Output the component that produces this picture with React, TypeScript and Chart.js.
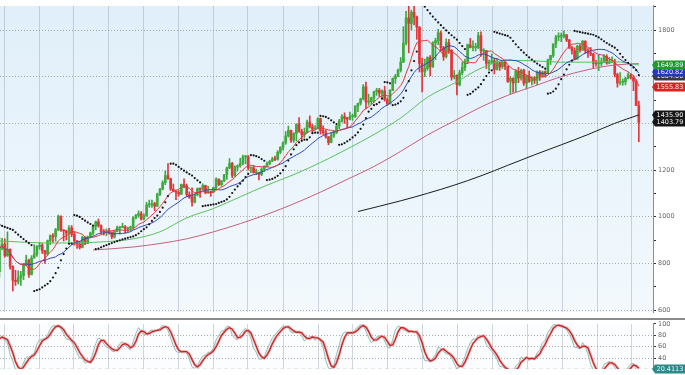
import React, { useEffect, useRef } from 'react';
import { Chart, registerables } from 'chart.js';

Chart.register(...registerables);

// Weekly gold (USD/oz) candles, week ending 19 Sep 2008 ... 19 Apr 2013 (bar index 0..239)
const opens = [
  764, 866, 883, 832, 860, 786, 727, 722, 737, 748,
  795, 814, 752, 823, 839, 872, 878, 853, 840, 897,
  919, 914, 944, 1002, 942, 939, 930, 952, 924, 897,
  883, 868, 912, 885, 913, 930, 958, 978, 962, 936,
  935, 940, 932, 913, 937, 953, 954, 957, 947, 952,
  955, 995, 1006, 1013, 990, 1003, 1050, 1051, 1056, 1045,
  1096, 1118, 1146, 1176, 1163, 1118, 1110, 1104, 1097, 1138,
  1131, 1094, 1083, 1062, 1094, 1121, 1117, 1134, 1102, 1107,
  1105, 1125, 1161, 1137, 1154, 1180, 1209, 1228, 1177, 1213,
  1218, 1229, 1256, 1256, 1209, 1210, 1189, 1189, 1181, 1204,
  1215, 1228, 1237, 1247, 1246, 1276, 1297, 1317, 1346, 1370,
  1327, 1357, 1396, 1366, 1352, 1362, 1405, 1385, 1375, 1380,
  1420, 1369, 1360, 1342, 1318, 1349, 1360, 1388, 1409, 1429,
  1421, 1418, 1429, 1429, 1474, 1486, 1504, 1556, 1491, 1493,
  1510, 1536, 1542, 1529, 1539, 1501, 1483, 1541, 1592, 1601,
  1628, 1663, 1744, 1852, 1828, 1876, 1856, 1812, 1657, 1620,
  1635, 1682, 1642, 1745, 1755, 1788, 1724, 1686, 1746, 1713,
  1598, 1606, 1566, 1617, 1640, 1665, 1737, 1725, 1725, 1725,
  1776, 1710, 1712, 1657, 1662, 1668, 1631, 1660, 1642, 1663,
  1645, 1580, 1593, 1573, 1623, 1594, 1628, 1572, 1604, 1580,
  1590, 1584, 1620, 1604, 1620, 1616, 1672, 1691, 1740, 1770,
  1773, 1773, 1780, 1757, 1724, 1712, 1676, 1731, 1714, 1752,
  1712, 1702, 1697, 1657, 1656, 1656, 1662, 1687, 1658, 1666,
  1667, 1609, 1573, 1576, 1578, 1592, 1607, 1596, 1581, 1476,
];
const highs = [
  910, 907, 905, 935, 862, 790, 770, 768, 766, 800,
  835, 818, 833, 880, 876, 890, 885, 856, 900, 922,
  927, 950, 1007, 1004, 945, 941, 962, 962, 934, 897,
  895, 917, 913, 917, 934, 961, 981, 990, 965, 945,
  948, 950, 935, 940, 960, 957, 972, 962, 955, 960,
  1000, 1010, 1025, 1022, 1012, 1062, 1071, 1071, 1062, 1101,
  1121, 1154, 1196, 1227, 1165, 1140, 1110, 1112, 1140, 1162,
  1140, 1107, 1124, 1097, 1123, 1124, 1141, 1135, 1130, 1110,
  1127, 1166, 1162, 1155, 1180, 1213, 1249, 1233, 1218, 1222,
  1250, 1264, 1263, 1262, 1211, 1218, 1204, 1190, 1210, 1218,
  1235, 1242, 1255, 1260, 1283, 1300, 1321, 1365, 1388, 1371,
  1360, 1398, 1425, 1375, 1380, 1414, 1432, 1395, 1390, 1424,
  1423, 1389, 1372, 1344, 1360, 1370, 1390, 1417, 1437, 1445,
  1426, 1448, 1440, 1476, 1487, 1508, 1566, 1577, 1525, 1512,
  1538, 1550, 1550, 1544, 1559, 1510, 1545, 1595, 1610, 1632,
  1682, 1814, 1880, 1912, 1885, 1921, 1860, 1815, 1680, 1675,
  1685, 1690, 1750, 1765, 1803, 1795, 1730, 1762, 1760, 1716,
  1627, 1608, 1628, 1662, 1675, 1740, 1764, 1754, 1743, 1790,
  1792, 1720, 1712, 1672, 1697, 1680, 1678, 1663, 1668, 1665,
  1645, 1600, 1595, 1630, 1640, 1632, 1632, 1605, 1624, 1600,
  1600, 1625, 1626, 1624, 1625, 1675, 1692, 1741, 1777, 1788,
  1787, 1796, 1780, 1760, 1730, 1724, 1735, 1738, 1755, 1754,
  1720, 1725, 1700, 1670, 1694, 1680, 1695, 1694, 1682, 1685,
  1675, 1615, 1617, 1590, 1597, 1616, 1612, 1605, 1586, 1495,
];
const lows = [
  740, 858, 826, 830, 775, 681, 705, 712, 705, 730,
  790, 740, 750, 822, 830, 860, 842, 800, 835, 880,
  890, 895, 940, 937, 895, 900, 885, 914, 878, 864,
  861, 866, 880, 884, 912, 921, 944, 955, 928, 921,
  918, 925, 905, 908, 935, 925, 952, 930, 934, 937,
  946, 990, 997, 985, 986, 1002, 1040, 1040, 1026, 1043,
  1090, 1115, 1137, 1160, 1112, 1107, 1073, 1088, 1094, 1123,
  1087, 1078, 1045, 1059, 1089, 1083, 1114, 1098, 1100, 1087,
  1104, 1120, 1133, 1131, 1150, 1160, 1205, 1167, 1173, 1195,
  1212, 1222, 1226, 1200, 1189, 1186, 1180, 1157, 1176, 1193,
  1213, 1222, 1237, 1240, 1242, 1270, 1285, 1310, 1341, 1318,
  1318, 1325, 1361, 1330, 1340, 1358, 1380, 1360, 1374, 1376,
  1354, 1352, 1336, 1308, 1316, 1340, 1356, 1376, 1405, 1400,
  1380, 1415, 1413, 1425, 1450, 1478, 1500, 1462, 1478, 1482,
  1490, 1520, 1515, 1510, 1495, 1478, 1483, 1540, 1571, 1600,
  1620, 1660, 1736, 1702, 1800, 1822, 1760, 1620, 1535, 1600,
  1627, 1603, 1640, 1673, 1737, 1710, 1670, 1680, 1700, 1585,
  1590, 1522, 1560, 1607, 1626, 1656, 1723, 1710, 1710, 1720,
  1688, 1670, 1635, 1627, 1655, 1612, 1628, 1627, 1635, 1630,
  1575, 1527, 1532, 1535, 1574, 1585, 1562, 1547, 1575, 1564,
  1570, 1565, 1584, 1597, 1598, 1615, 1652, 1683, 1724, 1754,
  1750, 1766, 1750, 1720, 1696, 1672, 1673, 1705, 1712, 1700,
  1683, 1690, 1636, 1645, 1626, 1645, 1660, 1653, 1655, 1660,
  1599, 1555, 1565, 1563, 1565, 1590, 1590, 1540, 1476, 1321,
];
const closes = [
  866, 883, 832, 860, 786, 727, 722, 737, 748, 795,
  814, 752, 823, 839, 872, 878, 853, 840, 897, 919,
  914, 944, 1002, 942, 939, 930, 952, 924, 897, 883,
  868, 912, 885, 913, 930, 958, 978, 962, 936, 935,
  940, 932, 913, 937, 953, 954, 957, 947, 952, 955,
  995, 1006, 1013, 990, 1003, 1050, 1051, 1056, 1045, 1096,
  1118, 1146, 1176, 1163, 1118, 1110, 1104, 1097, 1138, 1131,
  1094, 1083, 1062, 1094, 1121, 1117, 1134, 1102, 1107, 1105,
  1125, 1161, 1137, 1154, 1180, 1209, 1228, 1177, 1213, 1218,
  1229, 1256, 1256, 1209, 1210, 1189, 1189, 1181, 1204, 1215,
  1228, 1237, 1247, 1246, 1276, 1297, 1317, 1346, 1370, 1327,
  1357, 1396, 1366, 1352, 1362, 1405, 1385, 1375, 1380, 1420,
  1369, 1360, 1342, 1318, 1349, 1360, 1388, 1409, 1429, 1421,
  1418, 1429, 1429, 1474, 1486, 1504, 1556, 1491, 1493, 1510,
  1536, 1542, 1529, 1539, 1501, 1483, 1541, 1592, 1601, 1628,
  1663, 1744, 1852, 1828, 1876, 1856, 1812, 1657, 1620, 1635,
  1682, 1642, 1745, 1755, 1788, 1724, 1686, 1746, 1713, 1598,
  1606, 1566, 1617, 1640, 1665, 1737, 1725, 1725, 1725, 1776,
  1710, 1712, 1657, 1662, 1668, 1631, 1660, 1642, 1663, 1645,
  1580, 1593, 1573, 1623, 1594, 1628, 1572, 1604, 1580, 1590,
  1584, 1620, 1604, 1620, 1616, 1672, 1691, 1740, 1770, 1773,
  1773, 1780, 1757, 1724, 1712, 1676, 1731, 1714, 1752, 1712,
  1702, 1697, 1657, 1656, 1656, 1662, 1687, 1658, 1666, 1667,
  1609, 1573, 1576, 1578, 1592, 1607, 1596, 1581, 1476, 1404,
];

// Slow moving averages: [bar index, value]
const ma50Readings = [
  [0, 896], [10, 890], [20, 887], [30, 888], [40, 893], [50, 905], [60, 935],
  [70, 995], [80, 1035], [90, 1085], [100, 1135], [110, 1180], [120, 1232],
  [130, 1290], [140, 1352], [150, 1423], [160, 1512], [170, 1572], [180, 1636],
  [190, 1670], [200, 1668], [210, 1662], [220, 1662], [230, 1664], [239, 1650],
];
const ma100Readings = [
  [35, 857], [50, 870], [60, 885], [70, 905], [80, 935], [90, 970], [100, 1010],
  [110, 1055], [120, 1105], [130, 1160], [140, 1215], [150, 1280], [160, 1350],
  [170, 1410], [180, 1470], [190, 1520], [200, 1560], [210, 1600], [220, 1630],
  [230, 1650], [239, 1656],
];
const ma200Readings = [
  [134, 1022], [150, 1068], [160, 1100], [170, 1135], [180, 1175], [190, 1220],
  [200, 1265], [210, 1308], [220, 1352], [230, 1400], [239, 1436],
];

// Parabolic SAR starting state (falling, above price)
const sarStart = 965;

// Vertical grid = quarter starts, in bar units
const quarterStarts = [
  1.71, 14.86, 27.71, 40.71, 53.86, 67, 79.86, 92.86, 106, 119.14,
  132, 145, 158.14, 171.29, 184.29, 197.29, 210.43, 223.57, 236.43,
];
const priceTicks = [600, 700, 800, 900, 1000, 1100, 1200, 1300, 1400, 1500, 1600, 1700, 1800, 1900];
const oscTicks = [20, 40, 60, 80, 100];

// Right-hand value tags
const tagTexts = ['1604.00', '1620.82', '1649.89', '1555.83', '1435.90', '1403.79'];
const tagValues = [1604.0, 1620.82, 1649.89, 1555.83, 1435.9, 1403.79];
const oscTagText = '20.4113';
const oscTagValue = 20.4113;

// ---------- styling / layout ----------
const UP = '#3daa3d';
const DOWN = '#e5353a';
const TAG_COLORS = ['#3b3b3b', '#2535c4', '#1f9a2e', '#dd2222', '#161616', '#161616'];
const OSC_TAG_COLOR = '#2d8a8a';
const X_MIN = 0.21;
const X_MAX = 244.3;
const FONT = 'DejaVu Sans';

function sma(arr: number[], n: number): number[] {
  return arr.map((_, i) => {
    const s = Math.max(0, i - n + 1);
    let t = 0;
    for (let j = s; j <= i; j++) t += arr[j];
    return t / (i - s + 1);
  });
}

function parabolicSar(h: number[], l: number[], start: number): number[] {
  const out: number[] = [start];
  let up = false;
  let sar = start;
  let ep = l[0];
  let af = 0.02;
  for (let i = 1; i < h.length; i++) {
    let next = sar + af * (ep - sar);
    if (up) {
      next = Math.min(next, l[i - 1], l[Math.max(0, i - 2)]);
      if (l[i] < next) {
        up = false; next = ep; ep = l[i]; af = 0.02;
      } else if (h[i] > ep) {
        ep = h[i]; af = Math.min(af + 0.02, 0.2);
      }
    } else {
      next = Math.max(next, h[i - 1], h[Math.max(0, i - 2)]);
      if (h[i] > next) {
        up = true; next = ep; ep = h[i]; af = 0.02;
      } else if (l[i] < ep) {
        ep = l[i]; af = Math.min(af + 0.02, 0.2);
      }
    }
    sar = next;
    out.push(sar);
  }
  return out;
}

function stochK(n: number): number[] {
  return closes.map((c, i) => {
    const s = Math.max(0, i - n + 1);
    let hh = -Infinity;
    let ll = Infinity;
    for (let j = s; j <= i; j++) {
      hh = Math.max(hh, highs[j]);
      ll = Math.min(lows[j], ll);
    }
    return hh === ll ? 50 : ((c - ll) / (hh - ll)) * 100;
  });
}

function drawTag(ctx: CanvasRenderingContext2D, x: number, y: number, text: string, color: string) {
  const h = 9;
  const w = 33;
  ctx.fillStyle = color;
  ctx.beginPath();
  ctx.moveTo(x - 3, y);
  ctx.lineTo(x, y - h / 2);
  ctx.lineTo(x + w, y - h / 2);
  ctx.lineTo(x + w, y + h / 2);
  ctx.lineTo(x, y + h / 2);
  ctx.closePath();
  ctx.fill();
  ctx.fillStyle = '#f4f4f4';
  ctx.font = `6.5px "${FONT}"`;
  ctx.textAlign = 'left';
  ctx.textBaseline = 'middle';
  ctx.fillText(text, x + 1.5, y + 0.5);
}

const xScale = () => ({
  type: 'linear' as const,
  min: X_MIN,
  max: X_MAX,
  offset: false,
  afterBuildTicks: (s: any) => {
    s.ticks = quarterStarts.map((v) => ({ value: v }));
  },
  ticks: { display: false },
  grid: { display: true, offset: false, drawTicks: false, color: 'rgba(150,165,182,0.45)', lineWidth: 1 },
  border: { display: false },
});

// place two reference values at given canvas pixel rows, using the laid-out chart area
function pinScale(chart: any, topPx: number, topVal: number, botPx: number, botVal: number) {
  const a = chart.chartArea;
  const k = (botPx - topPx) / (topVal - botVal);
  chart.options.scales.y.max = topVal + (topPx - a.top) / k;
  chart.options.scales.y.min = botVal - (a.bottom - botPx) / k;
  chart.update();
}

export default function App() {
  const mainRef = useRef<HTMLCanvasElement>(null);
  const oscRef = useRef<HTMLCanvasElement>(null);

  useEffect(() => {
    const idx = closes.map((_, i) => i);
    const ma10 = sma(closes, 10);
    const ma20 = sma(closes, 20);
    const sar = parabolicSar(highs, lows, sarStart);
    const kSlow = sma(stochK(14), 3);
    const dLine = sma(kSlow, 3);
    const candleColors = idx.map((i) => (closes[i] >= opens[i] ? UP : DOWN));

    const mainBg = {
      id: 'mainBg',
      beforeDraw(chart: any) {
        const { ctx, chartArea: a, width, height } = chart;
        ctx.save();
        ctx.fillStyle = '#ffffff';
        ctx.fillRect(0, 0, width, height);
        const g = ctx.createLinearGradient(0, a.top, 0, a.bottom);
        g.addColorStop(0, '#e0effa');
        g.addColorStop(1, '#f3f9fd');
        ctx.fillStyle = g;
        ctx.fillRect(a.left, a.top, a.right - a.left, a.bottom - a.top);
        ctx.restore();
      },
      afterDraw(chart: any) {
        const { ctx, chartArea: a } = chart;
        const y = chart.scales.y;
        ctx.save();
        tagValues.forEach((v, i) => {
          drawTag(ctx, a.right + 2, Math.round(y.getPixelForValue(v)), tagTexts[i], TAG_COLORS[i]);
        });
        ctx.restore();
      },
    };

    const oscBg = {
      id: 'oscBg',
      beforeDraw(chart: any) {
        const { ctx, chartArea: a, width, height } = chart;
        ctx.save();
        ctx.fillStyle = '#ffffff';
        ctx.fillRect(0, 0, width, height);
        ctx.fillStyle = '#fbfdfe';
        ctx.fillRect(a.left, a.top, a.right - a.left, a.bottom - a.top);
        ctx.fillStyle = '#8a8a8a';
        ctx.fillRect(0, 0, width, 2);
        ctx.restore();
      },
      afterDraw(chart: any) {
        const { ctx, chartArea: a } = chart;
        const y = chart.scales.y;
        ctx.save();
        drawTag(ctx, a.right + 2, Math.round(y.getPixelForValue(oscTagValue)), oscTagText, OSC_TAG_COLOR);
        ctx.restore();
      },
    };

    const lineDs = (label: string, data: any[], color: string, width = 1, smooth = false) => ({
      type: 'line' as const,
      label,
      data,
      borderColor: color,
      borderWidth: width,
      pointRadius: 0,
      pointHoverRadius: 0,
      fill: false,
      tension: smooth ? 0.4 : 0,
      cubicInterpolationMode: smooth ? ('monotone' as const) : ('default' as const),
    });

    const yAxis = (min: number, max: number, ticks: number[], showLabel: (v: number) => boolean, showGrid: (v: number) => boolean) => ({
      type: 'linear',
      position: 'right',
      min,
      max,
      afterBuildTicks: (s: any) => {
        s.ticks = ticks.map((v) => ({ value: v }));
      },
      afterFit: (s: any) => {
        s.width = 32;
      },
      ticks: {
        autoSkip: false,
        padding: 2,
        color: '#666',
        font: { family: FONT, size: 6.5 },
        callback: (v: any) => (showLabel(Number(v)) ? String(v) : ''),
      },
      grid: {
        color: (c: any) => (c.tick && showGrid(c.tick.value) ? 'rgba(140,140,140,0.7)' : 'rgba(0,0,0,0)'),
        tickColor: '#333',
        tickLength: 3,
        lineWidth: 1,
      },
      border: { display: true, color: '#8c8c8c', width: 1, dash: [1, 2] },
    });

    const main = new Chart(mainRef.current as HTMLCanvasElement, {
      type: 'bar',
      data: {
        datasets: [
          {
            type: 'line',
            label: 'SAR',
            data: idx.map((i) => ({ x: i, y: sar[i] })),
            showLine: false,
            pointRadius: 1.1,
            pointHoverRadius: 0,
            pointBackgroundColor: '#151515',
            pointBorderWidth: 0,
          } as any,
          lineDs('MA10', idx.map((i) => ({ x: i, y: ma10[i] })), '#e23a3a'),
          lineDs('MA20', idx.map((i) => ({ x: i, y: ma20[i] })), '#3346c2'),
          lineDs('MA50', ma50Readings.map(([x, y]) => ({ x, y })), '#5cc25c', 1, true),
          lineDs('MA100', ma100Readings.map(([x, y]) => ({ x, y })), '#c8607a', 1, true),
          lineDs('MA200', ma200Readings.map(([x, y]) => ({ x, y })), '#1c1c1c', 1, true),
          {
            type: 'bar',
            label: 'body',
            data: idx.map((i) => ({ x: i, y: [opens[i], closes[i]] })),
            backgroundColor: candleColors,
            borderWidth: 0,
            barThickness: 2,
            minBarLength: 1,
            grouped: false,
          } as any,
          {
            type: 'bar',
            label: 'wick',
            data: idx.map((i) => ({ x: i, y: [lows[i], highs[i]] })),
            backgroundColor: candleColors,
            borderWidth: 0,
            barThickness: 1,
            grouped: false,
          } as any,
        ],
      },
      options: {
        animation: false,
        responsive: true,
        maintainAspectRatio: false,
        events: [],
        layout: { padding: 0, autoPadding: false },
        plugins: { legend: { display: false }, tooltip: { enabled: false } },
        scales: {
          x: xScale() as any,
          y: yAxis(565.7, 1928.6, priceTicks, (v) => v % 200 === 0, (v) => v % 200 === 0) as any,
        },
      },
      plugins: [mainBg],
    });

    const osc = new Chart(oscRef.current as HTMLCanvasElement, {
      type: 'line',
      data: {
        datasets: [
          lineDs('%D', idx.map((i) => ({ x: i, y: dLine[i] })), '#c42626', 1.3),
          lineDs('%D halo', idx.map((i) => ({ x: i, y: dLine[i] })), 'rgba(238,150,150,0.6)', 3),
          lineDs('%K', idx.map((i) => ({ x: i, y: kSlow[i] })), '#8fbcbf', 1),
          {
            ...lineDs('20', [{ x: X_MIN, y: 20 }, { x: X_MAX, y: 20 }], '#6f9a8e', 1),
            borderDash: [4, 3],
          } as any,
        ],
      },
      options: {
        animation: false,
        responsive: true,
        maintainAspectRatio: false,
        events: [],
        layout: { padding: { top: 2, left: 0, right: 0, bottom: 0 }, autoPadding: false },
        plugins: { legend: { display: false }, tooltip: { enabled: false } },
        scales: {
          x: xScale() as any,
          y: yAxis(10, 107, oscTicks, () => true, (v) => v > 20 && v < 100) as any,
        },
      },
      plugins: [oscBg],
    });

    // main pane: 1800 at row 30, 600 at row 310; oscillator: 100 at row 6, 40 at row 40
    pinScale(main, 30, 1800, 310, 600);
    pinScale(osc, 6, 100, 40, 40);

    return () => {
      main.destroy();
      osc.destroy();
    };
  }, []);

  return (
    <div style={{ position: 'absolute', left: 0, top: 0, width: 685, height: 375, background: '#fff' }}>
      <div style={{ position: 'absolute', left: 0, top: 0, width: 685, height: 318 }}>
        <canvas ref={mainRef} />
      </div>
      <div style={{ position: 'absolute', left: 0, top: 318, width: 685, height: 57 }}>
        <canvas ref={oscRef} />
      </div>
    </div>
  );
}
